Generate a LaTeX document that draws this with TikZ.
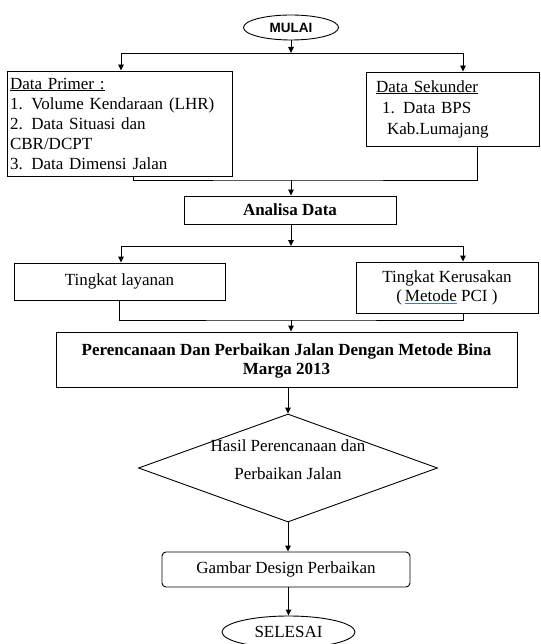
\documentclass[tikz,border=0pt]{standalone}
\usepackage{fontspec}
\setmainfont{Liberation Serif}
\newfontfamily\arialfont{Liberation Sans}
\usetikzlibrary{shapes.geometric,arrows.meta}
\definecolor{spellblue}{rgb}{0.25,0.45,0.9}
\newcommand\blueul[1]{\setbox0\hbox{#1}\rlap{\color{spellblue}\rule[-2.6pt]{\wd0}{0.8pt}}\copy0\relax}
\newcommand\widesp{\spaceskip=0.34em plus 0.05em\relax}
\begin{document}
\begin{tikzpicture}[x=1pt,y=-1pt,
  every node/.style={font=\fontsize{17}{20}\selectfont},
  mybox/.style={draw, line width=0.9pt, inner sep=0pt, align=center},
  arr/.style={-{Triangle[length=6pt,width=5.5pt]}},
  ln/.style={line width=0.9pt},
]
\useasboundingbox (0,0) rectangle (540,644);

\node[draw, ellipse, line width=0.9pt, minimum width=95pt, minimum height=25pt, inner sep=0pt,
      font=\arialfont\bfseries\fontsize{13.5}{15}\selectfont] (mulai) at (291,27.5) {MULAI};

\node[mybox, minimum width=225pt, minimum height=105pt, text width=219pt, align=left,
      font=\fontsize{17}{20}\selectfont] (primer) at (119.5,123.5)
  {\widesp\underline{Data Primer :}\\1. Volume Kendaraan (LHR)\\2. Data Situasi dan\\CBR/DCPT\\3. Data Dimensi Jalan};

\node[mybox, minimum width=173pt, minimum height=74pt, text width=153pt, align=left,
      font=\fontsize{17}{21}\selectfont] (sekunder) at (452.5,109)
  {\underline{Data Sekunder}\\\hspace*{6pt}1. Data BPS\\\hspace*{11pt}Kab.Lumajang};

\node[mybox, minimum width=212pt, minimum height=28pt, font=\bfseries\fontsize{17}{20}\selectfont]
  (analisa) at (290,210) {Analisa Data};

\node[mybox, minimum width=211pt, minimum height=37pt] (layanan) at (119.5,281.5) {Tingkat layanan};

\node[mybox, minimum width=182pt, minimum height=51pt, font=\fontsize{17}{19}\selectfont]
  (rusak) at (447,287.5) {Tingkat Kerusakan\\(\,\blueul{Metode} PCI )};

\node[mybox, minimum width=461pt, minimum height=55pt, font=\bfseries\fontsize{17}{19}\selectfont]
  (rencana) at (286.5,359.5) {\rule{0pt}{15pt}Perencanaan Dan Perbaikan Jalan Dengan Metode Bina\\Marga 2013};

\node[draw, diamond, line width=0.9pt, minimum width=299pt, minimum height=108pt, inner sep=0pt, aspect=2.77]
  (hasil) at (288,468) {};
\node[align=center, font=\fontsize{17}{28}\selectfont] (hasiltext) at (288,460)
  {Hasil Perencanaan dan\\Perbaikan Jalan};

\node[mybox, rounded corners=4pt, minimum width=248pt, minimum height=35pt] (gambar) at (286,569.5)
  {Gambar Design Perbaikan};

\node[draw, ellipse, line width=0.9pt, minimum width=133pt, minimum height=32pt, inner sep=0pt]
  (selesai) at (288.5,632) {SELESAI};

% connectors
\coordinate (j1) at (291,53);
\draw[ln, arr] (mulai.south) -- (j1);
\draw[ln, arr] (j1) -| (primer.north -| 121,0);
\draw[ln, arr] (j1) -| (sekunder.north -| 463,0);

\coordinate (j2) at (291,180);
\draw[ln] (primer.south -| 133,0) |- (j2) -| (sekunder.south -| 477,0);
\draw[ln, arr] (j2) -- (analisa.north -| j2);

\coordinate (j3) at (291,246);
\draw[ln, arr] (analisa.south -| j3) -- (j3);
\draw[ln, arr] (j3) -| (layanan.north -| 121,0);
\draw[ln, arr] (j3) -| (rusak.north -| 463,0);

\coordinate (j4) at (291,320);
\draw[ln] (layanan.south -| 119,0) |- (j4) -| (rusak.south -| 463,0);
\draw[ln, arr] (j4) -- (rencana.north -| j4);

\draw[ln, arr] (rencana.south -| hasil) -- (hasil.north);
\draw[ln, arr] (hasil.south) -- (gambar.north -| hasil.south);
\draw[ln, arr] (gambar.south -| selesai.north) -- (selesai.north);
\end{tikzpicture}
\end{document}
